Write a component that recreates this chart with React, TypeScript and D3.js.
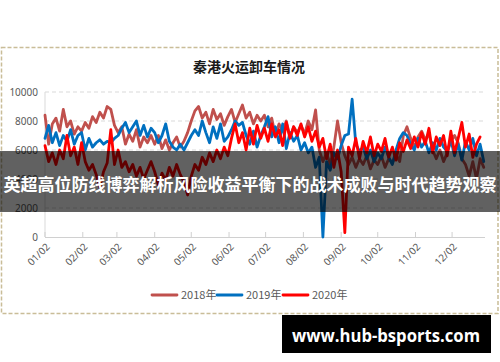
import React from "react";
import * as d3 from "d3";

const TITLE = "秦港火运卸车情况";
const BANNER = "英超高位防线博弈解析风险收益平衡下的战术成败与时代趋势观察";
const WATERMARK = "www.hub-bsports.com";

const SERIES_NAMES = ["2018年", "2019年", "2020年"];
const SERIES_COLORS = ["#C0504D", "#0070C0", "#FF0000"];

const DAY_STEP = 3;
const MONTH_LABELS = ["01/02", "02/02", "03/02", "04/02", "05/02", "06/02", "07/02", "08/02", "09/02", "10/02", "11/02", "12/02"];
const MONTH_DAYS = [0, 31, 59, 90, 120, 151, 181, 212, 243, 273, 304, 334];
const Y_TICKS = [0, 2000, 4000, 6000, 8000, 10000];

const Y2018 = [
  8400, 6400, 7800, 8200, 7300, 8800, 7600, 8000, 7100, 7600,
  7300, 7900, 7500, 8300, 7900, 8600, 8200, 9000, 8800, 7700,
  7200, 7600, 6400, 7100, 6600, 7400, 6200, 6900, 6500, 7000,
  6400, 7000, 6100, 6700, 6000, 6500, 6900, 6200, 6600, 7200,
  8000, 8700, 9000, 8200, 8600, 7800, 8800, 8100, 8500, 7700,
  8300, 8800, 7900, 8500, 9100, 8200, 8600, 7800, 8400, 8000,
  8400, 7600, 8200, 7000, 7800, 7300, 8000, 6900, 7600, 7200,
  7700, 7100, 8000, 7400, 8760, 6000, 5200, 5800, 5000, 6200,
  8000, 6500, 5600, 5000, 5500, 4800, 5400, 5000, 5600, 4700, 5300,
  5000, 5600, 4800, 5400, 5100, 5700, 5200, 7000, 7600, 6800,
  6200, 6900, 7300, 6700, 7100, 6000, 5400, 6000, 5200, 5800,
  6600, 7000, 6500, 5400, 5000, 4200, 5200, 4000, 5400, 4800,
];

const Y2019 = [
  6800, 7700, 6500, 7200, 6300, 7000, 6600, 7400, 6400, 7000,
  7200, 6000, 6800, 6200, 6500, 6700, 6400, 6600, 6500, 6800,
  7000, 7500, 7900, 7200, 7600, 8000, 7000, 7700, 6900, 7500,
  7200, 6500, 7000, 7800, 6600, 6200, 6000, 6400, 6000, 6500,
  7000, 7400, 7000, 8000, 7200, 6500, 7600, 6800, 7800, 6600,
  6900, 7400, 8000, 7700, 7900, 7000, 6400, 7300, 6200, 7000,
  7600, 8300, 6900, 7600, 6500, 7800, 6100, 7200, 6600, 7000,
  6000, 6500, 5800, 6200, 4800, 5500, 0, 5200, 4600, 5800,
  5400, 6300, 7000, 7100, 9500, 6400, 5900, 6200, 5400, 6000, 5200,
  5800, 5400, 6200, 5500, 5000, 6000, 6800, 7200, 7000, 6400,
  6000, 6800, 6200, 6600, 5800, 6500, 6000, 6800, 6200, 5900,
  6700, 5600, 6400, 5300, 6600, 6000, 6800, 5600, 6400, 5200,
];

const Y2020 = [
  6300, 5200, 5800, 5000, 6000, 5400, 7000, 5600, 6200, 5000,
  6500, 5200, 4600, 5000, 4300, 3400, 4500, 5100, 7400, 5000,
  6000, 4800, 5200, 4500, 5000, 4200, 4800, 4000, 4600, 5200,
  4500, 3600, 4400, 3900, 4800, 4200, 5000, 4300, 3800, 2900,
  4200, 5000, 4600, 5500, 5000, 5800, 5200, 6000, 5400, 6200,
  5600, 6800, 7800, 6500, 7200, 6000, 7500, 6400, 7700, 6800,
  7500, 6600, 7800, 6900, 7400, 6300, 7900, 6800, 7600, 7000,
  7800, 6900, 7600, 6600, 7300, 6200, 6800, 5400, 6400, 4800,
  6000, 4500, 300, 6200, 5600, 6800, 5400, 6600, 5800, 6900, 5600,
  6400, 5900, 6800, 5500, 6200, 5300, 6500, 5900, 6700, 6100,
  6900, 6200, 7200, 6400, 7500, 5800, 6900, 6300, 7000, 5600,
  7300, 5800, 6800, 7900, 6200, 7100, 5500, 6400, 6900,
];

const SERIES = [Y2018, Y2019, Y2020];

export default function App() {
  const W = 500;
  const H = 362;
  const x = d3.scaleLinear().domain([0, 361]).range([45, 485]);
  const y = d3.scaleLinear().domain([0, 10000]).range([237, 92]);
  const line = d3
    .line<number>()
    .x((_, i) => x(i * DAY_STEP))
    .y((d) => y(d));

  const legendX = [152, 217, 283];

  return (
    <svg
      width={W}
      height={H}
      viewBox={`0 0 ${W} ${H}`}
      style={{ position: "absolute", left: 0, top: 0, background: "#fff" }}
    >
      <rect x={0} y={0} width={W} height={H} fill="#fff" />
      <rect
        x={1.5}
        y={47.5}
        width={496.5}
        height={266}
        fill="#fff"
        stroke="#c9bd98"
        strokeWidth={1.5}
        strokeDasharray="4,2"
      />
      <text
        x={249}
        y={72}
        textAnchor="middle"
        fontFamily="'Noto Sans CJK SC', sans-serif"
        fontWeight="bold"
        fontSize={14}
        fill="#1a1a1a"
      >
        {TITLE}
      </text>

      {Y_TICKS.map((t) => (
        <g key={t}>
          {t > 0 && (
            <line x1={45} x2={485} y1={y(t)} y2={y(t)} stroke="#d9d9d9" strokeWidth={1} strokeDasharray="4,3" />
          )}
          <text
            x={38}
            y={y(t)}
            dy="0.35em"
            textAnchor="end"
            fontFamily="'Noto Sans', sans-serif"
            fontSize={10}
            fill="#595959"
          >
            {t}
          </text>
        </g>
      ))}
      <line x1={45} x2={45} y1={92} y2={237} stroke="#d9d9d9" strokeWidth={1} />
      <line x1={45} x2={485} y1={237.5} y2={237.5} stroke="#d0d0d0" strokeWidth={1.2} />
      {MONTH_DAYS.map((d, i) => (
        <g key={d}>
          <line x1={x(d)} x2={x(d)} y1={232} y2={237} stroke="#d0d0d0" strokeWidth={1} />
          <text
            transform={`translate(${x(d) + 3},${245}) rotate(-45)`}
            textAnchor="end"
            dy="0.35em"
            fontFamily="'Noto Sans', sans-serif"
            fontSize={10}
            fill="#595959"
          >
            {MONTH_LABELS[i]}
          </text>
        </g>
      ))}

      {SERIES.map((s, k) => (
        <path
          key={k}
          d={line(s) || ""}
          fill="none"
          stroke={SERIES_COLORS[k]}
          strokeWidth={2.8}
          strokeLinejoin="round"
          strokeLinecap="round"
        />
      ))}

      {SERIES_NAMES.map((n, k) => (
        <g key={n}>
          <line
            x1={legendX[k]}
            x2={legendX[k] + 25}
            y1={295}
            y2={295}
            stroke={SERIES_COLORS[k]}
            strokeWidth={2.8}
            strokeLinecap="round"
          />
          <text
            x={legendX[k] + 29}
            y={295}
            dy="0.35em"
            fontFamily="'Noto Sans CJK SC', sans-serif"
            fontSize={11}
            fill="#595959"
          >
            {n}
          </text>
        </g>
      ))}

      <rect x={0} y={151} width={W} height={61} fill="#000" opacity={0.62} />
      <text
        x={250}
        y={191}
        textAnchor="middle"
        fontFamily="'Noto Sans CJK SC', sans-serif"
        fontWeight="bold"
        fontSize={17}
        fill="#fff"
      >
        {BANNER}
      </text>

      <rect x={282} y={315} width={209} height={38} fill="#000" />
      <text
        x={386}
        y={342}
        textAnchor="middle"
        textLength={188}
        lengthAdjust="spacingAndGlyphs"
        fontFamily="'Open Sans', sans-serif"
        fontWeight="bold"
        fontSize={17}
        fill="#fff"
      >
        {WATERMARK}
      </text>
    </svg>
  );
}
